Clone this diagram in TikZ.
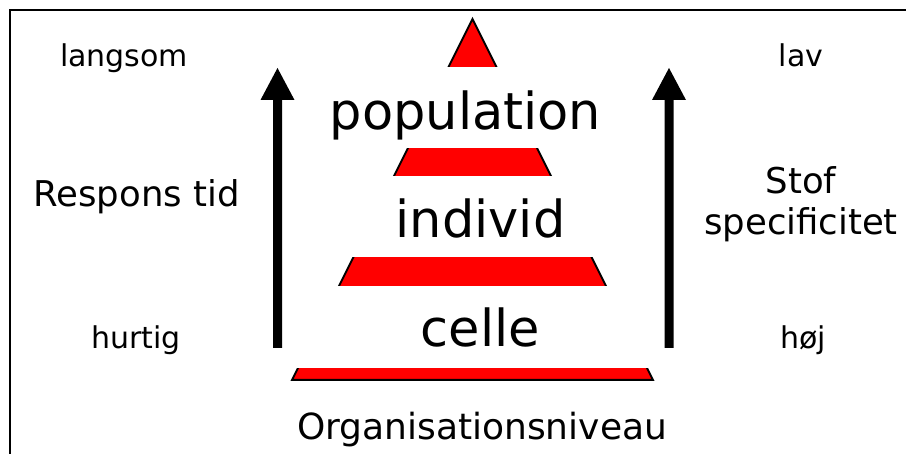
\documentclass[tikz,border=0pt]{standalone}
\usepackage{fontspec}
\setmainfont{DejaVu Sans}
\begin{document}
\begin{tikzpicture}[x=1pt,y=-1pt,
  lbl/.style={anchor=base,inner sep=0pt,font=\fontsize{35.5}{41}\selectfont},
  small/.style={anchor=base,inner sep=0pt,font=\fontsize{30}{32}\selectfont},
  big/.style={anchor=base,inner sep=0pt,font=\fontsize{51}{52}\selectfont},
  band/.style={fill=white,draw=none},
  bigarrow/.style={fill=black,draw=none}]
\useasboundingbox (0,0) rectangle (906,454);
% frame
\draw[line width=2.5pt] (10,458) -- (10,10) -- (910,10);
% pyramid
\coordinate (apex) at (472.5,19);
\coordinate (bl) at (292,380);
\coordinate (br) at (653,380);
\draw[fill=red,line width=2pt,line join=miter] (apex) -- (br) -- (bl) -- cycle;
\fill[band] (280,67) rectangle (665,148);
\fill[band] (280,176) rectangle (665,257);
\fill[band] (280,286) rectangle (665,368);
% arrows
\foreach \ax in {277.5,669} {
  \fill[bigarrow] (\ax,68) -- (\ax+17,100) -- (\ax+4.5,100) -- (\ax+4.5,348)
    -- (\ax-4.5,348) -- (\ax-4.5,100) -- (\ax-17,100) -- cycle;
}
% level texts
\node[big] (pop) at (465.5,130) {population};
\node[big] (ind) at (480.5,238) {individ};
\node[big] (cel) at (480.5,347) {celle};
\node[lbl,font=\fontsize{36}{40}\selectfont] (org) at (482,440) {Organisationsniveau};
% left texts
\node[small] (langsom) at (124,67) {langsom};
\node[lbl] (resp) at (136.5,207) {Respons tid};
\node[small] (hurtig) at (136,349) {hurtig};
% right texts
\node[small] (lav) at (801,67) {lav};
\node[lbl,align=center] (stof) at (801,235) {Stof\\specificitet};
\node[small] (hoj) at (803,349) {høj};
\end{tikzpicture}
\end{document}
